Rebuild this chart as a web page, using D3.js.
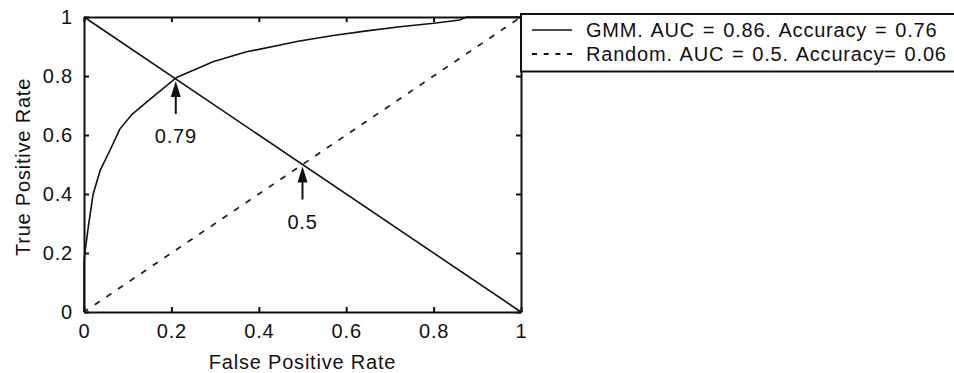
<!DOCTYPE html>
<html>
<head>
<meta charset="utf-8">
<script src="https://cdn.jsdelivr.net/npm/d3@7"></script>
<style>
  body { margin: 0; background: #fff; }
  text { font-family: 'Liberation Sans', Arial, sans-serif; font-size: 20px; letter-spacing: 0.8px; fill: #111; }
</style>
</head>
<body>
<div id="graph"></div>
<script>
// ROC data
const gmmFpr = [0, 0, 0.002, 0.006, 0.01, 0.021, 0.037, 0.06, 0.082, 0.11, 0.15, 0.212, 0.295, 0.372, 0.449, 0.49, 0.57, 0.647, 0.723, 0.80, 0.86, 0.875, 1]
const gmmTpr = [0, 0.17, 0.2, 0.245, 0.29, 0.40, 0.48, 0.55, 0.62, 0.67, 0.72, 0.795, 0.848, 0.882, 0.905, 0.918, 0.937, 0.953, 0.967, 0.979, 0.99, 1, 1]
const randFpr = [0, 1]
const randTpr = [0, 1]
const diagFpr = [0, 1]
const diagTpr = [1, 0]

const arrowX = [0.21, 0.5]
const arrowY = [0.79, 0.5]
const arrowLabels = ['0.79', '0.5']

const tickVals = [0, 0.2, 0.4, 0.6, 0.8, 1]
const tickLabels = ['0', '0.2', '0.4', '0.6', '0.8', '1']
const legendLabels = ['GMM. AUC = 0.86. Accuracy = 0.76', 'Random. AUC = 0.5. Accuracy= 0.06']

const total_width = 954
const total_height = 373
const margins = { top: 17, left: 84, right: 433, bottom: 61 }
const width = total_width - margins.left - margins.right
const height = total_height - margins.top - margins.bottom

const svg = d3.select('#graph').append('svg')
  .attr('width', total_width)
  .attr('height', total_height)

const g = svg.append('g')
  .attr('transform', `translate(${margins.left}, ${margins.top})`)

const x = d3.scaleLinear().domain([0, 1]).range([0, width])
const y = d3.scaleLinear().domain([0, 1]).range([height, 0])

const fmt = d => tickLabels[tickVals.indexOf(d)]

// axes, ticks pointing inwards like matlab
const xAxis = g.append('g')
  .attr('transform', `translate(0, ${height})`)
  .call(d3.axisBottom(x).tickValues(tickVals).tickFormat(fmt).tickSizeInner(-5).tickSizeOuter(0).tickPadding(12))
const yAxis = g.append('g')
  .call(d3.axisLeft(y).tickValues(tickVals).tickFormat(fmt).tickSizeInner(-5).tickSizeOuter(0).tickPadding(11))
g.append('g')
  .call(d3.axisTop(x).tickValues(tickVals).tickFormat('').tickSizeInner(-5).tickSizeOuter(0))
g.append('g')
  .attr('transform', `translate(${width}, 0)`)
  .call(d3.axisRight(y).tickValues(tickVals).tickFormat('').tickSizeInner(-5).tickSizeOuter(0))

g.selectAll('.domain, .tick line')
  .attr('stroke', '#111')
  .attr('stroke-width', 2)
g.selectAll('.tick text')
  .attr('fill', '#111')
  .style('font-size', '20px')
  .style('font-family', "'Liberation Sans', Arial, sans-serif")

const line = d3.line()
  .x(d => x(d[0]))
  .y(d => y(d[1]))

// diagonal y = 1 - x
g.append('path')
  .datum(d3.zip(diagFpr, diagTpr))
  .attr('fill', 'none')
  .attr('stroke', '#111')
  .attr('stroke-width', 1.6)
  .attr('d', line)

// random classifier
g.append('path')
  .datum(d3.zip(randFpr, randTpr))
  .attr('fill', 'none')
  .attr('stroke', '#222')
  .attr('stroke-width', 1.8)
  .attr('stroke-dasharray', '6,8')
  .attr('stroke-dashoffset', 1)
  .attr('d', line)

// GMM roc curve
g.append('path')
  .datum(d3.zip(gmmFpr, gmmTpr))
  .attr('fill', 'none')
  .attr('stroke', '#111')
  .attr('stroke-width', 1.6)
  .attr('d', line)

// arrows pointing at the intersections
const arrows = g.selectAll('.arrow')
  .data(d3.zip(arrowX, arrowY, arrowLabels))
  .enter()
  .append('g')
  .attr('class', 'arrow')
  .attr('transform', d => `translate(${x(d[0])}, ${y(d[1]) + 2})`)

arrows.append('line')
  .attr('x1', 0).attr('x2', 0)
  .attr('y1', 12).attr('y2', 33)
  .attr('stroke', '#111')
  .attr('stroke-width', 2)
arrows.append('path')
  .attr('d', 'M0,0 L5,16 L-5,16 Z')
  .attr('fill', '#111')
arrows.append('text')
  .attr('y', 55)
  .attr('dy', '0.35em')
  .attr('text-anchor', 'middle')
  .text(d => d[2])

// axis titles
svg.append('text')
  .attr('x', margins.left + width / 2)
  .attr('y', 369)
  .attr('text-anchor', 'middle')
  .text('False Positive Rate')
svg.append('text')
  .attr('transform', 'translate(30, 167) rotate(-90)')
  .attr('text-anchor', 'middle')
  .text('True Positive Rate')

// legend box
const legend = svg.append('g')
  .attr('transform', `translate(${margins.left + width}, 14)`)
legend.append('rect')
  .attr('x', 0).attr('y', 0)
  .attr('width', 450).attr('height', 57.5)
  .attr('fill', '#fff')
  .attr('stroke', '#111')
  .attr('stroke-width', 2)

const rows = legend.selectAll('.row')
  .data(legendLabels)
  .enter()
  .append('g')
  .attr('class', 'row')
  .attr('transform', (d, i) => `translate(0, ${16 + i * 24})`)
rows.append('line')
  .attr('x1', 11).attr('x2', 51)
  .attr('y1', 0).attr('y2', 0)
  .attr('stroke', '#111')
  .attr('stroke-width', (d, i) => i === 0 ? 1.6 : 1.8)
  .attr('stroke-dasharray', (d, i) => i === 0 ? null : '5,6.7')
rows.append('text')
  .attr('x', 65)
  .attr('dy', '0.35em')
  .style('word-spacing', '1.5px')
  .text(d => d)
</script>
</body>
</html>
